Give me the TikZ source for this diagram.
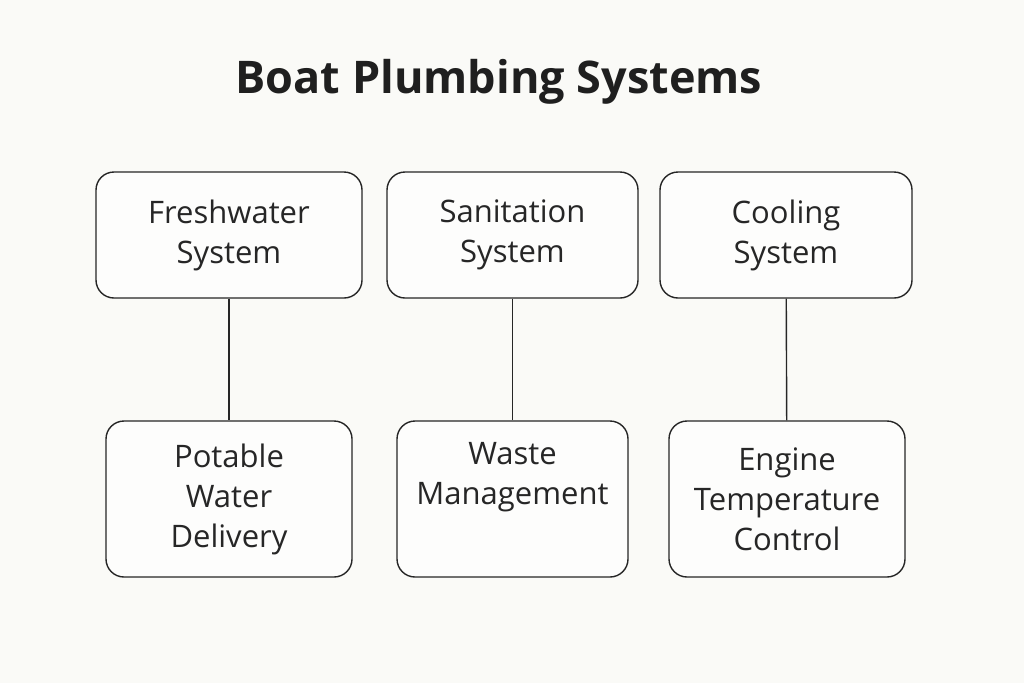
\documentclass[tikz,border=0pt]{standalone}
\usepackage{fontspec}
\setmainfont{Open Sans}
\begin{document}
\begin{tikzpicture}[x=1pt,y=-1pt,
  box/.style={draw=black!85,line width=1.4pt,rounded corners=18pt,fill=white!60!bgc,align=center,font=\fontsize{31}{40}\selectfont,text=black!85},
  conn/.style={draw=black!85,line width=1.4pt}]
\definecolor{bgc}{HTML}{FAFAF7}
\fill[bgc] (0,0) rectangle (1024,683);
\useasboundingbox (0,0) rectangle (1024,683);
\node[font=\bfseries\fontsize{45}{52}\selectfont,text=black!88] (t) at (499,82) {Boat Plumbing Systems};
\node[box,minimum width=266pt,minimum height=126pt] (f) at (229,235) {Freshwater\\System};
\node[box,minimum width=251pt,minimum height=126pt] (s) at (512.5,235) {Sanitation\\System};
\node[box,minimum width=252pt,minimum height=126pt] (c) at (786,235) {Cooling\\System};
\node[box,minimum width=246pt,minimum height=156pt] (p) at (229,499) {Potable\\Water\\Delivery};
\node[box,minimum width=231pt,minimum height=156pt] (w) at (512.5,499) {Waste\\Management\\\strut};
\node[box,minimum width=236pt,minimum height=156pt] (e) at (787,499) {Engine\\Temperature\\Control};
\draw[conn] (f) -- (p);
\draw[conn] (s) -- (w);
\draw[conn] (c) -- (e);
\end{tikzpicture}
\end{document}
